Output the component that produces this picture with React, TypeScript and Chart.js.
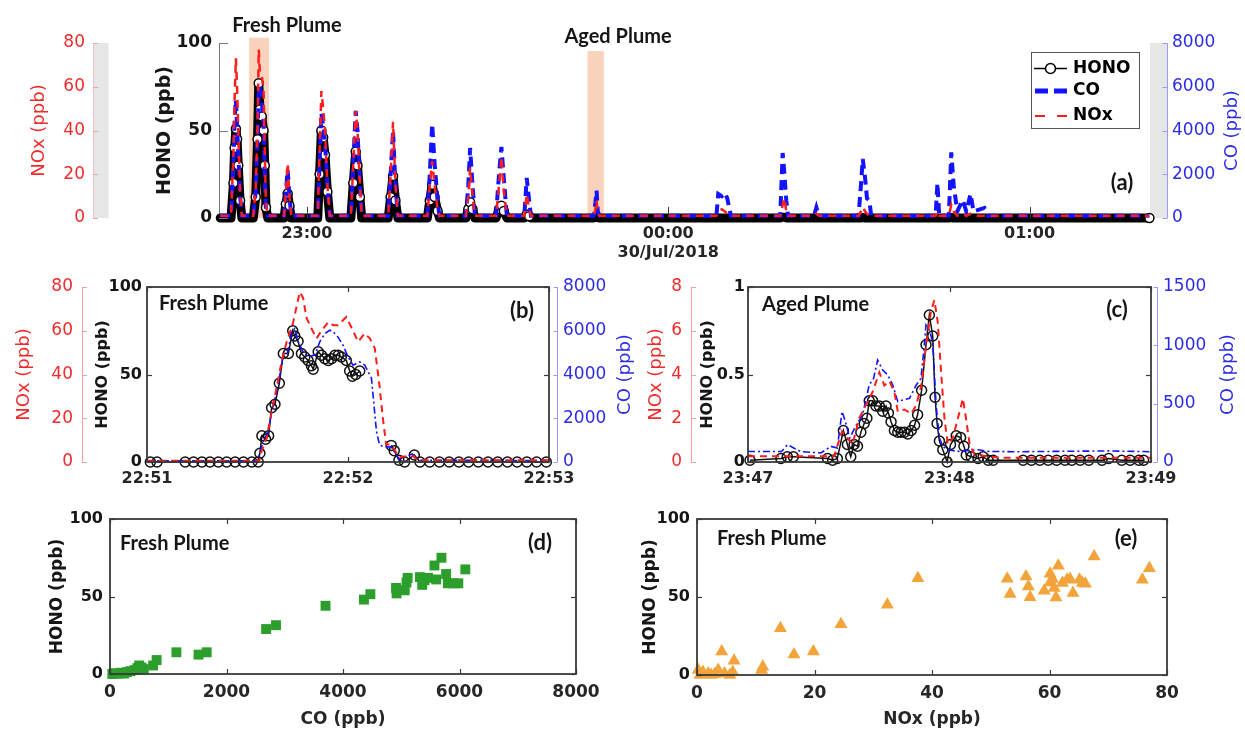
import React, { useEffect, useRef } from "react";
import { Chart, registerables } from "chart.js";

Chart.register(...registerables);

const W = 1245;
const H = 730;
const AXF = "'DejaVu Sans', 'Liberation Sans', sans-serif";
const ANF = "Lato, 'Open Sans', sans-serif";

const BLACK = "#161616";
const GREY_TXT = "#262626";
const BOX = "#3a3a3a";
const RED = "#ef2b2b";
const RED_LINE = "#ff1c1c";
const RED_AXIS = "#f3a0a0";
const BLUE = "#2c2ce6";
const BLUE_LINE = "#1212ff";
const BLUE_AXIS = "#9a9af5";
const GREEN = "#2b9e2b";
const ORANGE = "#f2a33a";
const SHADE = "#f8d2ba";
const GREY_BAR = "#e6e6e6";

// ---------------- Panel (a): minutes after 22:00, 29 Jul 2018
const A_TIME = [
  45.6,
  47.4, 47.8, 48.0, 48.2, 48.4, 48.6, 48.9, 49.2,
  51.1, 51.5, 51.8, 52.0, 52.2, 52.5, 52.8, 53.0, 53.2, 53.5,
  56.2, 56.5, 56.8, 57.1, 57.4,
  61.8, 62.1, 62.4, 62.7, 63.0, 63.4, 63.8,
  67.3, 67.7, 68.1, 68.4, 68.8, 69.1,
  73.5, 73.9, 74.3, 74.7, 75.1,
  80.0, 80.4, 80.8, 81.2, 81.7, 82.0,
  86.4, 86.8, 87.1, 87.5, 87.9,
  91.4, 91.9, 92.3, 92.7, 93.2,
  96.1, 96.5, 96.9, 97.2,
  107.6, 107.9, 108.1, 108.3, 108.6,
  128.0, 128.3, 128.9, 129.4, 129.8, 130.4,
  138.6, 139.0, 139.3, 139.6, 139.9,
  144.2, 144.6, 145.0,
  151.6, 152.0, 152.3, 152.7, 153.0, 153.4, 153.7,
  164.4, 164.7, 165.0,
  166.6, 167.0, 167.4, 168.0, 168.9, 169.5, 170.2, 170.7,
  172.5, 173.0,
  199.9,
];
const A_HONO = [
  0,
  0, 20, 40, 51, 45, 30, 10, 0,
  0, 12, 45, 77, 62, 58, 50, 30, 6, 0,
  0, 8, 14, 7, 0,
  0, 25, 50, 46, 36, 15, 0,
  0, 20, 38, 30, 12, 0,
  0, 12, 24, 10, 0,
  0, 10, 19, 12, 4, 0,
  0, 5, 9, 5, 0,
  0, 5, 7, 4, 0,
  0, 2, 1, 0,
  0, 0.3, 0.8, 0.2, 0,
  0, 0, 0, 0, 0, 0,
  0, 0.5, 0.5, 0, 0,
  0, 0, 0,
  0, 0, 0.3, 0, 0, 0, 0,
  0, 0, 0,
  0, 0.3, 0, 0, 0, 0, 0, 0,
  0, 0,
  0,
];
const A_CO = [
  100,
  100, 2500, 4500, 5400, 4200, 3000, 1000, 100,
  100, 1200, 3800, 5800, 6000, 5300, 4400, 2000, 300, 100,
  100, 1200, 2200, 1000, 100,
  100, 2500, 4800, 4200, 3500, 1500, 100,
  100, 2500, 4900, 4000, 1500, 100,
  100, 2000, 4000, 1500, 100,
  100, 2000, 4300, 2500, 800, 100,
  100, 1500, 3200, 1500, 100,
  100, 2000, 3250, 1800, 100,
  100, 1830, 800, 100,
  100, 700, 1250, 300, 100,
  100, 1100, 1000, 1150, 900, 100,
  100, 2970, 2000, 800, 100,
  100, 480, 100,
  100, 1500, 2700, 1800, 900, 800, 100,
  100, 1600, 100,
  100, 3000, 1500, 300, 820, 300, 1100, 300,
  460, 100,
  100,
];
const A_NOX = [
  1,
  1, 30, 55, 73, 60, 40, 12, 1,
  1, 14, 42, 77, 66, 65, 58, 30, 6, 1,
  1, 12, 25, 10, 1,
  1, 30, 58, 50, 40, 15, 1,
  1, 25, 49, 40, 15, 1,
  1, 20, 44, 15, 1,
  1, 15, 26, 15, 4, 1,
  1, 10, 23, 10, 1,
  1, 15, 28, 12, 1,
  1, 11, 4, 1,
  1, 4, 8, 2, 1,
  1, 3, 4, 3, 2, 1,
  1, 6, 9, 3, 1,
  1, 2, 1,
  1, 3, 5, 3, 2, 1, 1,
  1, 3, 1,
  1, 6, 3, 1, 2, 1, 2, 1,
  1, 1,
  1,
];
const A_RANGE = [45.4, 200];
const A_TICKS = [60, 120, 180];
const A_TICK_LABELS: any[] = ["23:00", ["00:00", "30/Jul/2018"], "01:00"];
const FRESH_SPAN = [50.4, 53.7, 103];
const AGED_SPAN = [106.6, 109.3, 95.4];

// ---------------- Panel (b): seconds after 22:51:00
const B_TICKS = [0, 60, 120];
const B_TICK_LABELS = ["22:51", "22:52", "22:53"];
const B_T_HONO = [
  1.0, 3.0, 11.4, 13.9, 16.4, 18.8, 21.3, 23.8, 26.3, 28.8, 31.3, 33.2,
  33.7, 34.3, 35.4, 36.3, 37.2, 38.2, 39.5, 40.7, 42.2, 43.5, 44.1, 45.1, 46.1, 47.1, 48.1, 49.1, 49.6,
  51.1, 52.1, 53.1, 54.1, 55.1, 56.1, 57.1, 58.0, 59.5, 60.5, 61.3, 62.3, 63.5,
  68.0, 72.9, 73.8, 75.2, 76.9, 79.8, 81.5,
  84.4, 87.3, 90.2, 93.1, 96.0, 98.9, 101.8, 104.7, 107.6, 110.5, 113.4, 116.3, 119.2,
];
const B_HONO = [
  0, 0, 0, 0, 0, 0, 0, 0, 0, 0, 0, 0,
  5, 15, 13, 15, 31, 33, 45, 62, 62, 75, 72, 69, 62, 60, 58, 55, 53,
  63, 61, 59, 58, 59, 61, 61, 60, 58, 52, 49, 50, 52,
  null, 9.5, 6.5, 1, 0, 4, 0,
  0, 0, 0, 0, 0, 0, 0, 0, 0, 0, 0, 0, 0,
];
const B_T_CO = [0, 33, 33.5, 34.7, 36.2, 37.2, 38.7, 40.2, 40.7, 41.9, 43.2, 44.1, 45.1, 46.6, 48.1, 50.1, 51.6, 53.1, 54.6, 55.6, 57.0, 58.5, 60.0, 61.5, 63.5, 65.0, 67.0, 68.5, 69.4, 70.4, 72.9, 75.2, 77.4, 79.2, 80.9, 120];
const B_CO = [60, 60, 330, 940, 1400, 2300, 3200, 4430, 4960, 4960, 5950, 6100, 5500, 5040, 4810, 4890, 5500, 5870, 6030, 5950, 5720, 5340, 4810, 4430, 4580, 4430, 3830, 1400, 790, 710, 680, 150, 230, 380, 75, 70];
const B_T_NOX = [0, 33.5, 34.2, 35.7, 37.2, 38.7, 40.2, 41.7, 43.5, 45.6, 46.6, 47.6, 49.1, 50.6, 52.1, 54.1, 55.6, 57.0, 59.5, 61.5, 63.0, 65.0, 66.5, 68.0, 69.4, 70.4, 71.4, 72.9, 75.2, 77.4, 79.2, 80.9, 120];
const B_NOX = [0.6, 0.6, 4.9, 10.9, 23, 34, 46, 55, 63, 77.7, 75, 66, 61, 56.5, 60, 64, 62.5, 62.5, 66.3, 60, 55, 58.8, 56.5, 52, 35, 20, 8, 8, 2.3, 2.6, 3, 0.8, 0.8];

// ---------------- Panel (c): seconds after 23:47:00
const C_TICKS = [0, 60, 120];
const C_TICK_LABELS = ["23:47", "23:48", "23:49"];
const C_T_HONO = [
  0.6, 9.8, 11.7, 13.5, 23.7, 25.2, 26.6, 28.4, 29.6, 30.6, 31.6, 32.6, 33.6, 34.6, 35.4,
  36.1, 37.1, 38.1, 39.1, 40.1, 41.1, 41.8, 42.6, 43.6, 44.6, 45.6, 46.6, 47.6, 48.6, 49.6,
  50.5, 51.7, 53.0, 54.0, 55.0, 55.7, 56.3, 57.0, 58.0, 59.3, 60.3, 62.0, 63.3, 64.3, 65.0,
  66.5, 68.5, 70.0, 71.5, 73.0, 81.9, 84.4, 86.9, 89.4, 91.9, 94.4, 96.4, 98.9, 101.5, 105.4,
  107.4, 111.3, 113.8, 116.4, 117.8,
];
const C_HONO = [
  0.01, 0.02, 0.03, 0.03, 0.02, 0.01, 0.02, 0.18, 0.10, 0.03, 0.10, 0.09, 0.17, 0.22, 0.25,
  0.35, 0.35, 0.32, 0.32, 0.29, 0.32, 0.28, 0.23, 0.18, 0.17, 0.17, 0.17, 0.16, 0.18, 0.21,
  0.27, 0.41, 0.67, 0.84, 0.72, 0.37, 0.22, 0.12, 0.07, 0.0, 0.10, 0.15, 0.14, 0.09, 0.04,
  0.03, 0.02, 0.03, 0.01, 0.01, 0.01, 0.01, 0.01, 0.01, 0.01, 0.01, 0.01, 0.01, 0.01, 0.01,
  0.02, 0.01, 0.01, 0.01, 0.01,
];
const C_T_CO = [0, 10, 11.8, 13.6, 15.7, 21.7, 24.7, 26.6, 28.0, 29.0, 30.3, 32.0, 34.1, 36.1, 37.4, 38.6, 40.1, 41.6, 43.1, 44.6, 46.1, 48.1, 50.1, 51.5, 52.5, 53.0, 54.0, 55.0, 56.0, 57.0, 58.0, 59.5, 62.5, 65.5, 68.5, 71.5, 80, 107, 120];
const C_CO = [90, 90, 150, 120, 90, 77, 134, 120, 433, 347, 205, 305, 404, 660, 717, 874, 788, 746, 660, 518, 532, 546, 660, 717, 1002, 1173, 1130, 1030, 490, 205, 134, 105, 91, 100, 105, 91, 88, 95, 88];
const C_T_NOX = [0, 22, 25.6, 28.0, 29.6, 31.1, 33.1, 35.1, 37.1, 39.1, 40.6, 42.1, 43.6, 44.6, 46.6, 48.6, 50.1, 51.6, 53.0, 54.5, 55.5, 56.5, 57.5, 58.5, 59.5, 61.0, 62.5, 64.0, 65.0, 66.0, 67.5, 75, 120];
const C_NOX = [0.26, 0.26, 0.26, 1.4, 1.1, 0.8, 2.0, 2.6, 3.2, 4.1, 3.5, 3.7, 3.2, 2.3, 2.4, 2.2, 2.6, 3.5, 5.3, 6.9, 7.4, 6.4, 4.1, 2.0, 0.8, 1.1, 2.0, 2.9, 1.9, 0.8, 0.33, 0.2, 0.2];

// ---------------- Panel (d): HONO vs CO (fresh plume)
const D_CO = [40, 90, 140, 190, 240, 290, 350, 420, 470, 500, 540, 580, 740, 800, 1140, 1520, 1660, 2680, 2850, 3700, 4360, 4470, 4910, 4920, 5060, 5090, 5110, 5320, 5360, 5400, 5460, 5600, 5570, 5690, 5770, 5800, 5900, 5980, 6100];
const D_HONO = [0, 0.5, 0.2, 0.8, 0.3, 1.2, 1.8, 2.5, 3.8, 5.5, 4.2, 3.2, 5.5, 9, 14, 12.5, 14, 29, 31.5, 44, 48, 51.5, 55.5, 52, 54, 59, 62, 62.5, 57.5, 60.5, 62, 61, 70, 75, 64.5, 58.5, 58.5, 58.5, 67.5];

// ---------------- Panel (e): HONO vs NOx (fresh plume)
const E_NOX = [0.2, 0.5, 1.0, 1.9, 2.4, 3.0, 3.6, 4.2, 4.7, 5.6, 6.1, 6.3, 11.0, 11.2, 14.2, 16.5, 19.8, 24.5, 32.4, 37.6, 52.8, 53.3, 56.0, 56.4, 56.7, 59.1, 60.1, 60.5, 60.1, 60.8, 61.1, 61.5, 62.2, 63.0, 63.5, 64.0, 65.1, 65.6, 66.1, 67.6, 75.8, 77.0];
const E_HONO = [3.2, 0, 2, 1, 0, 0.5, 3.2, 15, 1, 0, 2, 9.2, 3.2, 5.3, 30, 13.2, 15, 32.5, 45, 62, 61.7, 52, 63.2, 56.7, 49.9, 54, 64.9, 61.5, 59.3, 55.7, 49.7, 70, 58.9, 61, 61.5, 52.5, 61, 58.9, 58.5, 76, 61, 68.5];

// ---------------- helpers
const xy = (xs: number[], ys: (number | null)[]) => xs.map((x, i) => ({ x, y: ys[i] }));
const fnt = (size: number, weight: string = "normal") => ({ family: AXF, size, weight, lineHeight: 1.2 });
const ANN = `bold 20px ${ANF}`;
const TAG = `bold 22px ${ANF}`;
const fixW = (w: number) => (s: any) => { s.width = w; };
const fixH = (h: number) => (s: any) => { s.height = h; };
const setTicks = (vals: number[]) => (s: any) => { s.ticks = vals.map((v) => ({ value: v })); };
const noGrid = { display: false, drawTicks: false };

function seg(ctx: any, x1: number, y1: number, x2: number, y2: number) {
  ctx.beginPath();
  ctx.moveTo(x1, y1);
  ctx.lineTo(x2, y2);
  ctx.stroke();
}
function ticksY(ctx: any, scale: any, x: number, dir: number, len: number) {
  for (const t of scale.ticks) {
    const y = Math.round(scale.getPixelForValue(t.value)) + 0.5;
    seg(ctx, x, y, x + dir * len, y);
  }
}
function ticksX(ctx: any, scale: any, y: number, dir: number, len: number) {
  for (const t of scale.ticks) {
    const x = Math.round(scale.getPixelForValue(t.value)) + 0.5;
    seg(ctx, x, y, x, y + dir * len);
  }
}
function txt(ctx: any, s: string, x: number, y: number, f: string, color: string, align: string = "left") {
  ctx.save();
  ctx.font = f;
  ctx.fillStyle = color;
  ctx.textAlign = align;
  ctx.textBaseline = "alphabetic";
  ctx.fillText(s, x, y);
  ctx.restore();
}
function vtxt(ctx: any, s: string, x: number, y: number, f: string, color: string) {
  ctx.save();
  ctx.translate(x, y);
  ctx.rotate(-Math.PI / 2);
  ctx.font = f;
  ctx.fillStyle = color;
  ctx.textAlign = "center";
  ctx.textBaseline = "middle";
  ctx.fillText(s, 0, 0);
  ctx.restore();
}
function frame(ctx: any, ca: any) {
  ctx.save();
  ctx.strokeStyle = BOX;
  ctx.lineWidth = 1.8;
  ctx.strokeRect(ca.left, ca.top, ca.right - ca.left, ca.bottom - ca.top);
  ctx.restore();
}

const baseOpts = {
  responsive: false,
  animation: false,
  devicePixelRatio: 1,
  events: [],
  plugins: { legend: { display: false }, tooltip: { enabled: false } },
};

// ---------------- Chart (a)
const decoA = {
  id: "decoA",
  beforeDatasetsDraw(chart: any) {
    const { ctx, chartArea: ca, scales: s } = chart;
    ctx.save();
    ctx.fillStyle = GREY_BAR;
    ctx.fillRect(s.yN.right + 0.5, ca.top, 15, ca.bottom - ca.top);
    ctx.fillRect(ca.right, ca.top, 17, ca.bottom - ca.top);
    ctx.fillStyle = SHADE;
    for (const [t0, t1, top] of [FRESH_SPAN, AGED_SPAN]) {
      const x0 = s.x.getPixelForValue(t0);
      const x1 = s.x.getPixelForValue(t1);
      const y0 = s.yH.getPixelForValue(top);
      const y1 = s.yH.getPixelForValue(0);
      ctx.fillRect(x0, y0, x1 - x0, y1 - y0);
    }
    ctx.restore();
  },
  afterDatasetsDraw(chart: any) {
    const { ctx, chartArea: ca, scales: s } = chart;
    const ds = chart.data.datasets;
    ctx.save();
    ctx.lineWidth = 1;
    ctx.strokeStyle = "#777";
    ticksY(ctx, s.yH, ca.left, 1, 9);
    ctx.strokeStyle = BOX;
    ticksX(ctx, s.x, ca.bottom, -1, 11);
    ctx.strokeStyle = RED_AXIS;
    ticksY(ctx, s.yN, s.yN.right, 1, 5);
    const cx = ca.right + 17.5;
    ctx.strokeStyle = BLUE_AXIS;
    seg(ctx, cx, ca.top, cx, ca.bottom);
    ticksY(ctx, s.yC, cx, -1, 5);
    ctx.restore();
    vtxt(ctx, "CO (ppb)", 1232, (ca.top + ca.bottom) / 2, `18px ${AXF}`, BLUE);
    txt(ctx, "Fresh Plume", 287, 32, ANN, BLACK, "center");
    txt(ctx, "Aged Plume", 618, 43, ANN, BLACK, "center");
    txt(ctx, "(a)", 1122, 190, TAG, BLACK, "center");
    // legend
    ctx.save();
    ctx.fillStyle = "#fff";
    ctx.fillRect(1031, 52, 108, 76);
    ctx.strokeStyle = "#555";
    ctx.lineWidth = 1;
    ctx.strokeRect(1031.5, 52.5, 108, 76);
    ctx.strokeStyle = "#000";
    ctx.lineWidth = 1.5;
    seg(ctx, 1034, 68.5, 1067, 68.5);
    ctx.beginPath();
    ctx.arc(1050.5, 68.5, 5, 0, Math.PI * 2);
    ctx.fillStyle = "#fff";
    ctx.fill();
    ctx.stroke();
    ctx.strokeStyle = ds[1].borderColor;
    ctx.lineWidth = 5;
    ctx.setLineDash([13, 6]);
    seg(ctx, 1035, 91, 1067, 91);
    ctx.strokeStyle = ds[2].borderColor;
    ctx.lineWidth = 2;
    ctx.setLineDash([10, 12]);
    seg(ctx, 1035, 116, 1067, 116);
    ctx.setLineDash([]);
    ctx.font = `bold 17px ${AXF}`;
    ctx.fillStyle = "#000";
    ctx.textBaseline = "middle";
    ctx.fillText(ds[0].label, 1073, 69);
    ctx.fillText(ds[1].label, 1073, 91);
    ctx.fillText(ds[2].label, 1073, 116);
    ctx.restore();
  },
};

const configA = () => ({
  type: "line",
  data: {
    datasets: [
      {
        label: "HONO", data: xy(A_TIME, A_HONO), yAxisID: "yH", borderColor: "#000", borderWidth: 9,
        borderJoinStyle: "round", borderCapStyle: "round",
        pointRadius: (c: any) => (c.raw && (c.raw.y >= 1 || c.dataIndex === A_TIME.length - 1) ? 4.5 : 0),
        pointBorderWidth: 1.5, pointBorderColor: "#000", pointBackgroundColor: "#fff", order: 3, clip: false,
      },
      { label: "CO", data: xy(A_TIME, A_CO), yAxisID: "yC", borderColor: BLUE_LINE, borderWidth: 4, borderDash: [10, 6], pointRadius: 0, order: 2, clip: false },
      { label: "NOx", data: xy(A_TIME, A_NOX), yAxisID: "yN", borderColor: RED_LINE, borderWidth: 2.5, borderDash: [8, 6], pointRadius: 0, order: 1, clip: false },
    ],
  },
  options: {
    ...baseOpts,
    layout: { padding: { left: 0, right: 0, top: 43, bottom: 452 } },
    scales: {
      x: {
        type: "linear", min: A_RANGE[0], max: A_RANGE[1],
        afterBuildTicks: setTicks(A_TICKS), afterFit: fixH(60),
        grid: noGrid, border: { display: false },
        ticks: { callback: (v: any) => A_TICK_LABELS[A_TICKS.indexOf(v)] ?? "", font: fnt(16, "bold"), color: GREY_TXT, padding: 6, maxRotation: 0, autoSkip: false },
      },
      yH: {
        position: "left", weight: 0, min: 0, max: 100, afterFit: fixW(126),
        grid: noGrid, border: { display: true, color: "#777", width: 1 },
        ticks: { stepSize: 50, callback: (v: any) => String(v), font: fnt(17, "bold"), color: BLACK, padding: 7 },
        title: { display: true, text: "HONO (ppb)", font: fnt(19, "bold"), color: BLACK, padding: { top: 61, bottom: 0 } },
      },
      yN: {
        position: "left", weight: 1, min: 0, max: 80, afterFit: fixW(93),
        grid: noGrid, border: { display: true, color: RED_AXIS, width: 1 },
        ticks: { stepSize: 20, callback: (v: any) => String(v), font: fnt(17), color: RED, padding: 8 },
        title: { display: true, text: "NOx (ppb)", font: fnt(18), color: RED, padding: { top: 29, bottom: 0 } },
      },
      yC: {
        position: "right", min: 0, max: 8000, afterFit: fixW(95),
        grid: noGrid, border: { display: false },
        ticks: { stepSize: 2000, callback: (v: any) => String(v), font: fnt(17), color: BLUE, padding: 22 },
      },
    },
  },
  plugins: [decoA],
});

// ---------------- Charts (b) and (c)
function makeTimePanel(p: any) {
  const deco = {
    id: p.id,
    afterDatasetsDraw(chart: any) {
      const { ctx, chartArea: ca, scales: s } = chart;
      frame(ctx, ca);
      ctx.save();
      ctx.strokeStyle = BOX;
      ctx.lineWidth = 1.2;
      ticksX(ctx, s.x, ca.bottom, -1, 5);
      ticksX(ctx, s.x, ca.top, 1, 5);
      ticksY(ctx, s.yH, ca.left, 1, 5);
      ticksY(ctx, s.yH, ca.right, -1, 5);
      ctx.lineWidth = 1;
      ctx.strokeStyle = RED_AXIS;
      ticksY(ctx, s.yN, s.yN.right, 1, 5);
      const cx = ca.right + p.coOffset + 0.5;
      ctx.strokeStyle = BLUE_AXIS;
      seg(ctx, cx, ca.top, cx, ca.bottom);
      ticksY(ctx, s.yC, cx, -1, 4);
      ctx.restore();
      vtxt(ctx, "CO (ppb)", p.coTitleX, (ca.top + ca.bottom) / 2, `18px ${AXF}`, BLUE);
      txt(ctx, p.name, p.nameX, p.nameY, ANN, BLACK);
      txt(ctx, p.tag, p.tagX, p.tagY, TAG, BLACK, "center");
    },
  };
  return () => ({
    type: "line",
    data: {
      datasets: [
        { label: "HONO", data: xy(p.tH, p.h), yAxisID: "yH", borderColor: "#111", borderWidth: 1.5, pointRadius: 5, pointBorderWidth: 1.5, pointBorderColor: "#111", pointBackgroundColor: "rgba(0,0,0,0)", order: 3, clip: false },
        { label: "CO", data: xy(p.tC, p.c), yAxisID: "yC", borderColor: BLUE_LINE, borderWidth: 1.6, borderDash: [7, 3, 2, 3], pointRadius: 0, order: 2, clip: false },
        { label: "NOx", data: xy(p.tN, p.n), yAxisID: "yN", borderColor: RED_LINE, borderWidth: 2, borderDash: [7, 5], pointRadius: 0, order: 1, clip: false },
      ],
    },
    options: {
      ...baseOpts,
      layout: { padding: p.padding },
      scales: {
        x: {
          type: "linear", min: 0, max: 120,
          afterBuildTicks: setTicks(p.ticks), afterFit: fixH(50),
          grid: noGrid, border: { display: false },
          ticks: { callback: (v: any) => p.labels[p.ticks.indexOf(v)] ?? "", font: fnt(16, "bold"), color: GREY_TXT, padding: 7, maxRotation: 0, autoSkip: false },
        },
        yH: {
          position: "left", weight: 0, min: 0, max: p.hMax, afterFit: fixW(p.hW),
          grid: noGrid, border: { display: false },
          ticks: { stepSize: p.hMax / 2, callback: (v: any) => String(v), font: fnt(16, "bold"), color: BLACK, padding: p.hPad },
          title: { display: true, text: "HONO (ppb)", font: fnt(16, "bold"), color: BLACK, padding: { top: p.hTitle, bottom: 0 } },
        },
        yN: {
          position: "left", weight: 1, min: 0, max: p.nMax, afterFit: fixW(p.nW),
          grid: noGrid, border: { display: true, color: RED_AXIS, width: 1 },
          ticks: { stepSize: p.nMax / 4, callback: (v: any) => String(v), font: fnt(17), color: RED, padding: 9 },
          title: { display: true, text: "NOx (ppb)", font: fnt(18), color: RED, padding: { top: p.nTitle, bottom: 0 } },
        },
        yC: {
          position: "right", min: 0, max: p.cMax, afterFit: fixW(p.cW),
          grid: noGrid, border: { display: false },
          ticks: { stepSize: p.cStep, callback: (v: any) => String(v), font: fnt(17), color: BLUE, padding: p.cPad },
        },
      },
    },
    plugins: [deco],
  });
}

const configB = makeTimePanel({
  id: "decoB", tH: B_T_HONO, h: B_HONO, tC: B_T_CO, c: B_CO, tN: B_T_NOX, n: B_NOX,
  ticks: B_TICKS, labels: B_TICK_LABELS,
  padding: { left: 0, right: 596, top: 287, bottom: 218 },
  hMax: 100, hW: 65, hPad: 5, hTitle: 11,
  nMax: 80, nW: 82, nTitle: 14,
  cMax: 8000, cStep: 2000, cW: 100, cPad: 14, coOffset: 8, coTitleX: 625,
  name: "Fresh Plume", nameX: 159, nameY: 310, tag: "(b)", tagX: 522, tagY: 318,
});

const configC = makeTimePanel({
  id: "decoC", tH: C_T_HONO, h: C_HONO, tC: C_T_CO, c: C_CO, tN: C_T_NOX, n: C_NOX,
  ticks: C_TICKS, labels: C_TICK_LABELS,
  padding: { left: 631, right: 0, top: 287, bottom: 218 },
  hMax: 1, hW: 57, hPad: 3, hTitle: 7,
  nMax: 8, nW: 60, nTitle: 15,
  cMax: 1500, cStep: 500, cW: 94, cPad: 12, coOffset: 6, coTitleX: 1228,
  name: "Aged Plume", nameX: 762, nameY: 311, tag: "(c)", tagX: 1117, tagY: 317,
});

// ---------------- Charts (d) and (e)
function makeScatter(p: any) {
  const deco = {
    id: p.id,
    afterDatasetsDraw(chart: any) {
      const { ctx, chartArea: ca, scales: s } = chart;
      frame(ctx, ca);
      ctx.save();
      ctx.strokeStyle = BOX;
      ctx.lineWidth = 1.2;
      ticksX(ctx, s.x, ca.bottom, -1, 5);
      ticksX(ctx, s.x, ca.top, 1, 5);
      ticksY(ctx, s.y, ca.left, 1, 5);
      ticksY(ctx, s.y, ca.right, -1, 5);
      ctx.restore();
      txt(ctx, "Fresh Plume", p.nameX, p.nameY, ANN, BLACK);
      txt(ctx, p.tag, p.tagX, p.tagY, TAG, BLACK, "center");
    },
  };
  return () => ({
    type: "scatter",
    data: {
      datasets: [
        { label: p.label, data: xy(p.xs, p.ys), pointStyle: p.style, pointRadius: p.r, backgroundColor: p.color, borderColor: p.color, borderWidth: 0, clip: false },
      ],
    },
    options: {
      ...baseOpts,
      layout: { padding: p.padding },
      scales: {
        x: {
          type: "linear", min: 0, max: p.xMax, afterFit: fixH(p.xH),
          grid: noGrid, border: { display: false },
          ticks: { stepSize: p.xMax / 4, callback: (v: any) => String(v), font: fnt(17, "bold"), color: GREY_TXT, padding: 8, maxRotation: 0, autoSkip: false },
          title: { display: true, text: p.xTitle, font: fnt(17, "bold"), color: GREY_TXT, padding: { top: 0, bottom: 0 } },
        },
        y: {
          position: "left", min: 0, max: 100, afterFit: fixW(p.yW),
          grid: noGrid, border: { display: false },
          ticks: { stepSize: 50, callback: (v: any) => String(v), font: fnt(16, "bold"), color: BLACK, padding: 7 },
          title: { display: true, text: "HONO (ppb)", font: fnt(17, "bold"), color: BLACK, padding: { top: p.yTitle, bottom: 0 } },
        },
      },
    },
    plugins: [deco],
  });
}

const configD = makeScatter({
  id: "decoD", label: "HONO vs CO", xs: D_CO, ys: D_HONO, style: "rect", r: 7, color: GREEN,
  padding: { left: 0, right: 669, top: 519, bottom: 0 },
  xMax: 8000, xH: 56, xTitle: "CO (ppb)", yW: 110, yTitle: 47,
  nameX: 120, nameY: 550, tag: "(d)", tagX: 540, tagY: 550,
});

const configE = makeScatter({
  id: "decoE", label: "HONO vs NOx", xs: E_NOX, ys: E_HONO, style: "triangle", r: 7.5, color: ORANGE,
  padding: { left: 637, right: 78, top: 519, bottom: 0 },
  xMax: 80, xH: 55, xTitle: "NOx (ppb)", yW: 60, yTitle: 3,
  nameX: 717, nameY: 545, tag: "(e)", tagX: 1126, tagY: 546,
});

function ChartCanvas({ make }: { make: () => any }) {
  const ref = useRef<HTMLCanvasElement>(null);
  useEffect(() => {
    const chart = new Chart(ref.current as HTMLCanvasElement, make());
    return () => chart.destroy();
  }, []);
  return <canvas ref={ref} width={W} height={H} style={{ position: "absolute", left: 0, top: 0, width: W, height: H }} />;
}

export default function App() {
  return (
    <div style={{ position: "fixed", left: 0, top: 0, width: W, height: H, background: "#fff", overflow: "hidden" }}>
      <ChartCanvas make={configA} />
      <ChartCanvas make={configB} />
      <ChartCanvas make={configC} />
      <ChartCanvas make={configD} />
      <ChartCanvas make={configE} />
    </div>
  );
}
